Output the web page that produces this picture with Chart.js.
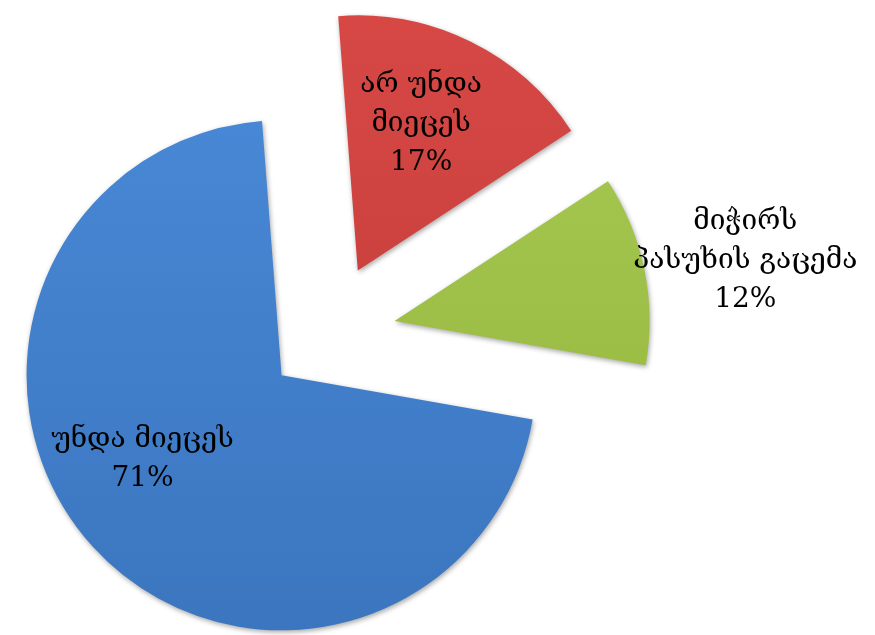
<!DOCTYPE html>
<html>
<head>
<meta charset="utf-8">
<script src="https://cdn.jsdelivr.net/npm/chart.js@4"></script>
<style>
  html, body { margin: 0; padding: 0; background: #fff; }
  #wrap { width: 875px; height: 635px; }
</style>
</head>
<body>
<div id="wrap"><canvas id="myChart"></canvas></div>
<script>
const labels = [['არ უნდა', 'მიეცეს'], ['მიჭირს', 'პასუხის გაცემა'], ['უნდა მიეცეს']];
const values = [17, 12, 71];
const pctLabels = ['17%', '12%', '71%'];

const topColors = ['#da4a47', '#a9cc56', '#4a8ad8'];
const bottomColors = ['#bf3a37', '#93b43a', '#3a74bd'];
// how far each slice is pulled out, px
const explode = [72, 70, 60];
// label placement: fraction of radius from centre, angle shift in degrees
const labelPlace = [
  { r: 0.91, da: -2 },
  { r: 1.67, da: 1.5 },
  { r: 0.87, da: 8 }
];

// chart.js scales offset down and grows big slices, so pull slices out by hand
const baseArcDraw = Chart.ArcElement.prototype.draw;
Chart.ArcElement.prototype.draw = function(c) {
  const i = this.$context ? this.$context.dataIndex : 0;
  const mid = (this.startAngle + this.endAngle) / 2;
  const d = explode[i] || 0;
  c.save();
  c.translate(Math.cos(mid) * d, Math.sin(mid) * d);
  baseArcDraw.call(this, c);
  c.restore();
};

const shadowPlugin = {
  id: 'shadow',
  beforeDatasetsDraw(chart) {
    const c = chart.ctx;
    c.save();
    c.shadowColor = 'rgba(0,0,0,0.35)';
    c.shadowBlur = 5;
    c.shadowOffsetX = 1;
    c.shadowOffsetY = 2;
  },
  afterDatasetsDraw(chart) {
    chart.ctx.restore();
  }
};

const labelPlugin = {
  id: 'sliceLabels',
  afterDatasetsDraw(chart) {
    const c = chart.ctx;
    const arcs = chart.getDatasetMeta(0).data;
    c.save();
    c.fillStyle = '#000';
    c.textAlign = 'center';
    c.textBaseline = 'middle';
    c.font = '28px "DejaVu Serif", "Liberation Serif", serif';
    arcs.forEach((arc, i) => {
      const p = arc.getProps(['x', 'y', 'startAngle', 'endAngle', 'outerRadius'], true);
      const mid = (p.startAngle + p.endAngle) / 2 + labelPlace[i].da * Math.PI / 180;
      const d = p.outerRadius * labelPlace[i].r;
      const cx = p.x + Math.cos(mid) * d;
      const cy = p.y + Math.sin(mid) * d;
      const lines = labels[i].concat([pctLabels[i]]);
      const lh = 39;
      const y0 = cy - (lines.length - 1) * lh / 2;
      lines.forEach((t, k) => c.fillText(t, cx, y0 + k * lh));
    });
    c.restore();
  }
};

const ctx = document.getElementById('myChart').getContext('2d');
const myChart = new Chart(ctx, {
  type: 'pie',
  data: {
    labels: labels.map(l => l.join(' ')),
    datasets: [{
      data: values,
      backgroundColor: function(context) {
        const area = context.chart.chartArea;
        if (!area) return topColors[context.dataIndex];
        const g = context.chart.ctx.createLinearGradient(0, 0, 0, 635);
        g.addColorStop(0, topColors[context.dataIndex]);
        g.addColorStop(1, bottomColors[context.dataIndex]);
        return g;
      },
      borderWidth: 0,
      clip: false
    }]
  },
  options: {
    responsive: true,
    maintainAspectRatio: false,
    animation: false,
    events: [],
    rotation: -4.4,
    radius: 255,
    layout: { padding: { left: 0, right: 223, top: 35, bottom: 0 } },
    plugins: {
      legend: { display: false },
      tooltip: { enabled: false }
    }
  },
  plugins: [shadowPlugin, labelPlugin]
});
</script>
</body>
</html>
